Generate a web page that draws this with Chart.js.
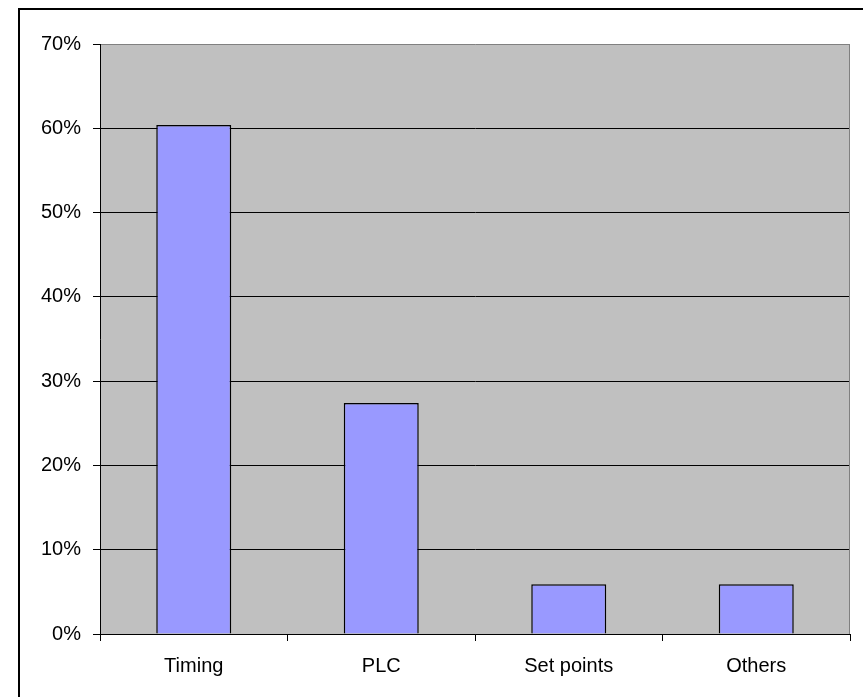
<!DOCTYPE html>
<html>
<head>
<meta charset="utf-8">
<script src="https://cdn.jsdelivr.net/npm/chart.js@4/dist/chart.umd.min.js"></script>
<style>
  html, body { margin: 0; padding: 0; background: #fff; overflow: hidden; }
  #wrap { position: relative; width: 863px; height: 697px; }
  #frame {
    position: absolute; left: 18px; top: 8px; width: 900px; height: 800px;
    border: 2px solid #000; pointer-events: none;
  }
</style>
</head>
<body>
<div id="wrap">
  <canvas id="errChart" width="863" height="697"></canvas>
  <div id="frame"></div>
</div>
<script>
// categories and their share of the total
const categories = ["Timing", "PLC", "Set points", "Others"];
const shares = [0.604, 0.274, 0.059, 0.059];
const yTicks = [0, 0.1, 0.2, 0.3, 0.4, 0.5, 0.6, 0.7];

// gray plot background + gray right edge, like the old Excel look
const plotBackground = {
  id: "plotBackground",
  beforeDraw(chart) {
    const { ctx, chartArea: a } = chart;
    ctx.save();
    ctx.fillStyle = "#C0C0C0";
    ctx.fillRect(a.left, a.top, a.right - a.left, a.bottom - a.top);
    ctx.restore();
  },
  beforeDatasetsDraw(chart) {
    const { ctx, chartArea: a } = chart;
    ctx.save();
    ctx.strokeStyle = "#808080";
    ctx.lineWidth = 1;
    ctx.beginPath();
    ctx.moveTo(a.right - 0.5, a.top);
    ctx.lineTo(a.right - 0.5, a.bottom);
    ctx.stroke();
    ctx.restore();
  },
};

Chart.defaults.font.family = "'Liberation Sans', Arial, sans-serif";
Chart.defaults.font.size = 20;
Chart.defaults.color = "#000";

new Chart(document.getElementById("errChart"), {
  type: "bar",
  data: {
    labels: categories,
    datasets: [
      {
        data: shares,
        backgroundColor: "#9999FF",
        borderColor: "#000",
        borderWidth: 1.5,
        barPercentage: 0.4,
        categoryPercentage: 1.0,
      },
    ],
  },
  options: {
    responsive: false,
    animation: false,
    layout: { padding: { left: 0, top: 44, right: 13, bottom: 0 } },
    plugins: {
      legend: { display: false },
      tooltip: { enabled: false },
    },
    scales: {
      x: {
        afterFit: (s) => { s.height = 63; },
        grid: {
          offset: true,
          drawOnChartArea: false,
          drawTicks: true,
          tickLength: 7,
          tickColor: "#000",
        },
        border: { color: "#000", width: 1 },
        ticks: { padding: 13, color: "#000" },
      },
      y: {
        min: 0,
        max: 0.7,
        afterFit: (s) => { s.width = 100; },
        afterBuildTicks: (s) => { s.ticks = yTicks.map((v) => ({ value: v })); },
        grid: {
          color: (c) => (c.tick && c.tick.value === 0.7 ? "#808080" : "#000"),
          lineWidth: 1,
          tickLength: 7,
          tickColor: "#000",
        },
        border: { color: "#000", width: 1 },
        ticks: {
          padding: 12,
          color: "#000",
          callback: (v) => Math.round(v * 100) + "%",
        },
      },
    },
  },
  plugins: [plotBackground],
});
</script>
</body>
</html>
